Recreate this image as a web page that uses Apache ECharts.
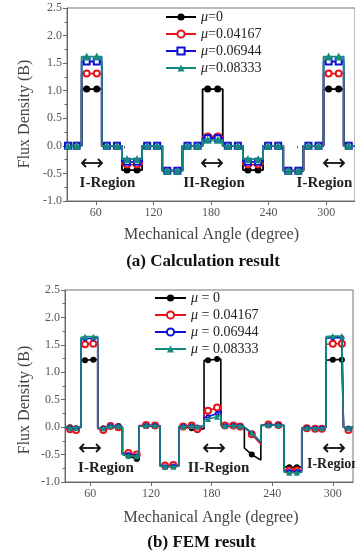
<!DOCTYPE html>
<html><head><meta charset="utf-8">
<script src="https://cdn.jsdelivr.net/npm/echarts@6/dist/echarts.min.js"></script>
<style>html,body{margin:0;padding:0;background:#fff}#c{width:355px;height:556px}</style>
</head><body><div id="c"></div>
<script>
// ---------- (a) Calculation result ----------
const calcAngle = [31, 40, 50.5, 61, 71.5, 82, 92.5, 103, 113.5, 124, 134.5, 145, 155.5, 166, 176.5, 187, 197.5, 208, 218.5, 229, 239.5, 250, 260.5, 271, 281.5, 292, 302.5, 313, 323.5, 334];
const calcMu0 = [0,0, 1.03,1.03, 0,0, -0.44,-0.44, 0,0, -0.45,-0.45, 0,0, 1.03,1.03, 0,0, -0.44,-0.44, 0,0, -0.45,-0.45, 0,0, 1.03,1.03, 0,0];
const calcMu1 = [0,0, 1.31,1.31, 0,0, -0.34,-0.34, 0,0, -0.45,-0.45, 0,0, 0.17,0.17, 0,0, -0.34,-0.34, 0,0, -0.45,-0.45, 0,0, 1.31,1.31, 0,0];
const calcMu2 = [0,0, 1.53,1.53, 0,0, -0.29,-0.29, 0,0, -0.45,-0.45, 0,0, 0.14,0.14, 0,0, -0.29,-0.29, 0,0, -0.45,-0.45, 0,0, 1.53,1.53, 0,0];
const calcMu3 = [0,0, 1.62,1.62, 0,0, -0.24,-0.24, 0,0, -0.45,-0.45, 0,0, 0.11,0.11, 0,0, -0.24,-0.24, 0,0, -0.45,-0.45, 0,0, 1.62,1.62, 0,0];
const calcNames = ['μ=0', 'μ=0.04167', 'μ=0.06944', 'μ=0.08333'];

// ---------- (b) FEM result ----------
const femAngle = [35, 40, 46, 50.8, 50.8, 54.8, 63, 67.4, 67.4, 73, 80, 87.8, 91.8, 91.8, 97.7, 106, 108.3, 108.3, 115.2, 124.1, 129, 129, 134, 142.2, 147.9, 147.9, 152, 160.4, 166, 172.6, 172.6, 176.5, 185.5, 189.2, 189.2, 193.4, 201.6, 208.3, 212.5, 212.5, 219.8, 228.8, 228.8, 236.3, 246.2, 251.8, 251.8, 257, 264.4, 269.3, 269.3, 274.3, 282.5, 289.2, 293.4, 293.4, 300, 309, 310.6, 310.6, 315.5, 320];
const femMark = [0,1,1,0,0,1,1,0,0,1,1,1,0,0,1,1,0,0,1,1,0,0,1,1,0,0,1,1,1,0,0,1,1,0,0,1,1,1,0,0,1,0,0,1,1,0,0,1,1,0,0,1,1,1,0,0,1,1,0,0,1,0];
const femMu0 = [0,0,-0.02,0,1.22,1.22,1.23,1.23,-0.02,-0.02,0.02,0.02,0,-0.5,-0.52,-0.58,-0.6,0.02,0.02,0.02,0.02,-0.7,-0.72,-0.71,-0.7,0,0.01,-0.02,-0.05,-0.03,1.22,1.22,1.24,1.24,0.03,0.02,0.02,0,0,-0.38,-0.5,-0.6,0.03,0.04,0.04,0.03,-0.72,-0.73,-0.73,-0.72,-0.02,-0.01,-0.02,-0.02,0,1.22,1.23,1.23,1.23,0,-0.03,0];
const femMu1 = [-0.01,-0.04,-0.05,0,1.51,1.51,1.52,1.52,-0.03,-0.05,0.02,0,0,-0.47,-0.47,-0.5,-0.52,0.03,0.04,0.03,0.03,-0.69,-0.7,-0.69,-0.69,0.01,0.01,0.03,-0.03,0.02,0.28,0.3,0.36,0.39,0.03,0.03,0.03,0.01,0,-0.02,-0.13,-0.31,0.03,0.05,0.04,0.03,-0.78,-0.79,-0.79,-0.78,-0.02,-0.02,-0.03,-0.03,0,1.51,1.52,1.52,1.52,0,-0.05,0];
const femMu2 = [0,-0.02,-0.02,0,1.6,1.61,1.62,1.62,-0.02,-0.03,0.02,0.02,0,-0.49,-0.5,-0.52,-0.53,0.02,0.03,0.03,0.02,-0.7,-0.72,-0.71,-0.7,0.01,0.01,0.02,0,0.02,0.17,0.19,0.25,0.3,0.03,0.02,0.03,0.02,0,-0.02,-0.11,-0.28,0.03,0.04,0.04,0.03,-0.8,-0.81,-0.81,-0.8,-0.02,-0.01,-0.02,-0.02,0,1.62,1.63,1.63,1.63,0,-0.02,0];
const femMu3 = [0,-0.01,-0.01,0,1.64,1.65,1.65,1.65,-0.02,-0.02,0.02,0.02,0,-0.5,-0.52,-0.53,-0.54,0.02,0.03,0.03,0.02,-0.71,-0.72,-0.72,-0.71,0.01,0.01,0.02,0.01,0.02,0.13,0.15,0.19,0.22,0.03,0.02,0.03,0.02,0,-0.02,-0.1,-0.27,0.03,0.04,0.04,0.03,-0.82,-0.83,-0.83,-0.82,-0.02,-0.01,-0.02,-0.02,0,1.65,1.66,1.66,1.66,0,-0.02,0];
const femNames = ['μ = 0', 'μ = 0.04167', 'μ = 0.06944', 'μ = 0.08333'];

const xMajor = [60, 120, 180, 240, 300];
const xMinor = [90, 150, 210, 270];

const SERIF = '"Liberation Serif", "Times New Roman", serif';
const colors = ['#000000', '#e8141c', '#1010d0', '#168a80'];

const chart = echarts.init(document.getElementById('c'), null, {renderer: 'canvas'});

function xAxes(gi, min, max) {
  return [{
    gridIndex: gi, type: 'value', min, max, position: 'bottom',
    axisLine: {onZero: false, lineStyle: {color: '#666', width: 1}},
    axisTick: {show: true, customValues: xMajor, length: 4, lineStyle: {color: '#666'}},
    axisLabel: {customValues: xMajor, color: '#555', fontFamily: SERIF, fontSize: 12, margin: 6},
    splitLine: {show: false}
  }, {
    gridIndex: gi, type: 'value', min, max, position: 'bottom',
    axisLine: {show: false},
    axisTick: {show: true, customValues: xMinor, length: 2.5, lineStyle: {color: '#666'}},
    axisLabel: {show: false},
    splitLine: {show: false}
  }];
}
function yAxis(gi) {
  return {
    gridIndex: gi, type: 'value', min: -1, max: 2.5, interval: 0.5,
    axisLine: {show: true, lineStyle: {color: '#666', width: 1}},
    axisTick: {show: true, length: 4, lineStyle: {color: '#666'}},
    minorTick: {show: true, splitNumber: 2, length: 2.5, lineStyle: {color: '#666'}},
    axisLabel: {color: '#555', fontFamily: SERIF, fontSize: 12, margin: 5, formatter: v => v.toFixed(1)},
    splitLine: {show: false}
  };
}

const calcSym = ['circle', 'emptyCircle', 'emptyRect', 'triangle'];
const calcSize = [7, 6, 6, 8];
const femSym = ['circle', 'emptyCircle', 'emptyCircle', 'triangle'];
const femSize = [6, 6, 3, 6];

const calcVals = [calcMu0, calcMu1, calcMu2, calcMu3];
const femVals = [femMu0, femMu1, femMu2, femMu3];

const series = [];
calcVals.forEach((vals, k) => {
  series.push({
    type: 'line', name: calcNames[k], xAxisIndex: 0, yAxisIndex: 0, step: 'middle',
    data: calcAngle.map((a, i) => [a, vals[i]]),
    symbol: calcSym[k], symbolSize: calcSize[k], showAllSymbol: true, clip: true,
    lineStyle: {color: colors[k], width: 1.8},
    itemStyle: {color: colors[k], borderWidth: 1},
    emphasis: {disabled: true}, z: 2 + k
  });
});
femVals.forEach((vals, k) => {
  series.push({
    type: 'line', name: femNames[k], xAxisIndex: 2, yAxisIndex: 1,
    data: femAngle.map((a, i) => ({value: [a, vals[i]], symbol: femMark[i] ? femSym[k] : 'none'})),
    symbol: femSym[k], symbolSize: femSize[k], showAllSymbol: true, clip: true,
    lineStyle: {color: colors[k], width: 1.6},
    itemStyle: {color: colors[k], borderWidth: 1},
    emphasis: {disabled: true}, z: 2 + k
  });
});

const legendRich = {
  i: {fontStyle: 'italic', fontFamily: SERIF, fontSize: 14, color: '#222'},
  n: {fontFamily: SERIF, fontSize: 14, color: '#222'}
};
function legend(names, left, top, w) {
  return {
    data: names, orient: 'vertical', left, top, itemWidth: w, itemHeight: 9, itemGap: 3,
    padding: 0, selectedMode: false,
    formatter: n => '{i|μ}{n|' + n.slice(1) + '}',
    textStyle: {fontFamily: SERIF, fontSize: 14, lineHeight: 13, rich: legendRich}
  };
}

function txt(text, x, y, size, opts) {
  return {type: 'text', x, y, style: Object.assign({text, fontFamily: SERIF, fontSize: size, fill: '#222', align: 'center', verticalAlign: 'middle'}, opts || {})};
}
function arrow(x, y) {
  const s = {stroke: '#111', lineWidth: 1.8, fill: null};
  return {type: 'group', x, y, children: [
    {type: 'line', shape: {x1: -10, y1: 0, x2: 10, y2: 0}, style: s},
    {type: 'polyline', shape: {points: [[-6, -4], [-10, 0], [-6, 4]]}, style: s},
    {type: 'polyline', shape: {points: [[6, -4], [10, 0], [6, 4]]}, style: s}
  ]};
}

const graphic = [
  Object.assign(txt('Flux Density (B)', 25, 114, 16, {fill: '#444'}), {rotation: Math.PI / 2}),
  Object.assign(txt('Flux Density (B)', 25, 400, 16, {fill: '#444'}), {rotation: Math.PI / 2}),
  txt('Mechanical Angle (degree)', 211.5, 235, 16, {fill: '#444'}),
  txt('Mechanical Angle (degree)', 211, 518, 16, {fill: '#444'}),
  txt('(a) Calculation result', 203, 262, 17, {fontWeight: 'bold', fill: '#111'}),
  txt('(b) FEM result', 201.5, 543, 17, {fontWeight: 'bold', fill: '#111'}),
  arrow(92, 163), arrow(212, 163), arrow(334, 163),
  txt('I-Region', 107.5, 183, 15, {fontWeight: 'bold'}),
  txt('II-Region', 214, 183, 15, {fontWeight: 'bold'}),
  txt('I-Region', 324.5, 183, 15, {fontWeight: 'bold'}),
  arrow(90, 448), arrow(214, 448), arrow(334, 448),
  txt('I-Region', 106, 468, 15, {fontWeight: 'bold'}),
  txt('II-Region', 218.5, 468, 15, {fontWeight: 'bold'}),
  txt('I-Region', 307, 464, 14, {fontWeight: 'bold', align: 'left'})
];

chart.setOption({
  animation: false,
  backgroundColor: '#fff',
  grid: [
    {left: 67, top: 8, width: 289, height: 193, show: true, borderColor: '#777', borderWidth: 1},
    {left: 65, top: 290, width: 288, height: 192, show: true, borderColor: '#777', borderWidth: 1}
  ],
  xAxis: [...xAxes(0, 30, 330), ...xAxes(1, 35, 320)],
  yAxis: [yAxis(0), yAxis(1)],
  legend: [legend(calcNames, 165, 10, 30), legend(femNames, 154, 291, 31)],
  series,
  graphic
});
</script></body></html>
